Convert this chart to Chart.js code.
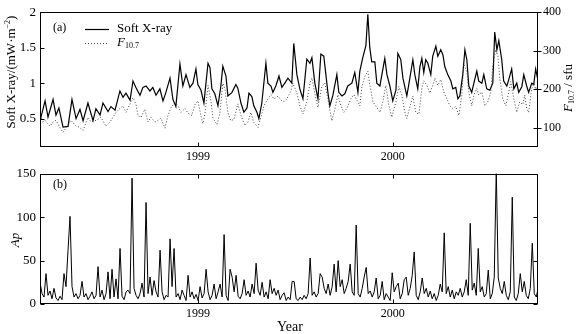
<!DOCTYPE html>
<html>
<head>
<meta charset="utf-8">
<script src="https://cdn.jsdelivr.net/npm/chart.js@4"></script>
<style>
  body { margin: 0; background: #fff; }
  #wrap { position: relative; width: 577px; height: 334px; }
  canvas { position: absolute; left: 0; }
</style>
</head>
<body>
<div id="wrap">
  <canvas id="top" width="577" height="162" style="top:0"></canvas>
  <canvas id="bottom" width="577" height="172" style="top:162px"></canvas>
</div>
<script>
// ---- data ----
const xrayYears = [
  1998.190, 1998.195, 1998.216, 1998.231, 1998.257, 1998.272, 1998.287, 1998.308, 1998.334, 1998.354,
  1998.375, 1998.395, 1998.411, 1998.436, 1998.462, 1998.477, 1998.498, 1998.513, 1998.539, 1998.554,
  1998.575, 1998.600, 1998.616, 1998.631, 1998.652, 1998.667, 1998.682, 1998.703, 1998.718, 1998.734,
  1998.754, 1998.769, 1998.785, 1998.805, 1998.821, 1998.836, 1998.857, 1998.872, 1998.887, 1998.908,
  1998.923, 1998.939, 1998.959, 1998.975, 1998.990, 1999.000, 1999.016, 1999.031, 1999.052, 1999.062,
  1999.072, 1999.087, 1999.103, 1999.118, 1999.128, 1999.144, 1999.154, 1999.175, 1999.195, 1999.205,
  1999.221, 1999.236, 1999.252, 1999.262, 1999.277, 1999.287, 1999.303, 1999.313, 1999.328, 1999.349,
  1999.359, 1999.375, 1999.385, 1999.400, 1999.416, 1999.431, 1999.446, 1999.462, 1999.482, 1999.492,
  1999.508, 1999.523, 1999.539, 1999.559, 1999.575, 1999.585, 1999.600, 1999.616, 1999.631, 1999.646,
  1999.667, 1999.677, 1999.692, 1999.713, 1999.723, 1999.739, 1999.754, 1999.769, 1999.790, 1999.805,
  1999.821, 1999.831, 1999.846, 1999.862, 1999.872, 1999.882, 1999.892, 1999.908, 1999.918, 1999.934,
  1999.944, 1999.959, 1999.970, 1999.985, 2000.000, 2000.016, 2000.026, 2000.041, 2000.052, 2000.072,
  2000.082, 2000.103, 2000.113, 2000.128, 2000.139, 2000.149, 2000.159, 2000.169, 2000.180, 2000.195,
  2000.205, 2000.221, 2000.231, 2000.246, 2000.257, 2000.267, 2000.282, 2000.298, 2000.308, 2000.323,
  2000.334, 2000.344, 2000.359, 2000.370, 2000.380, 2000.390, 2000.405, 2000.416, 2000.431, 2000.441,
  2000.457, 2000.467, 2000.482, 2000.498, 2000.513, 2000.523, 2000.534, 2000.544, 2000.559, 2000.569,
  2000.585, 2000.595, 2000.610, 2000.621, 2000.636, 2000.646, 2000.662, 2000.672, 2000.687, 2000.697,
  2000.713, 2000.723, 2000.733, 2000.744
];
const xrayFlux = [
  0.50, 0.52, 0.75, 0.52, 0.77, 0.55, 0.65, 0.38, 0.39, 0.77,
  0.50, 0.63, 0.47, 0.72, 0.47, 0.64, 0.55, 0.72, 0.60, 0.67,
  0.62, 0.89, 0.80, 0.86, 0.76, 1.03, 0.94, 0.83, 0.94, 0.96,
  0.89, 0.94, 0.83, 0.92, 0.75, 0.87, 1.07, 0.77, 0.67, 1.27,
  0.96, 1.12, 0.94, 1.00, 1.20, 0.98, 0.90, 0.72, 1.28, 1.22,
  0.92, 0.85, 0.68, 0.96, 1.24, 1.10, 0.82, 0.87, 0.98, 0.93,
  0.72, 0.59, 0.65, 0.86, 0.81, 0.68, 0.59, 0.50, 0.72, 1.28,
  1.00, 0.96, 0.87, 0.96, 1.10, 0.94, 1.00, 1.07, 1.00, 1.56,
  1.12, 0.92, 0.78, 1.34, 1.28, 1.36, 1.00, 0.78, 1.41, 1.38,
  0.87, 0.68, 0.82, 1.12, 0.87, 0.82, 0.85, 0.96, 1.00, 1.15,
  0.87, 1.17, 1.36, 1.53, 1.97, 1.50, 1.30, 1.30, 1.00, 0.96,
  1.12, 1.35, 1.12, 0.96, 0.75, 0.90, 1.42, 1.33, 1.07, 0.82,
  0.98, 1.33, 1.12, 0.92, 1.23, 1.35, 1.15, 1.33, 1.28, 1.12,
  1.38, 1.52, 1.38, 1.47, 1.40, 1.23, 1.12, 1.03, 0.92, 0.94,
  0.78, 0.82, 1.12, 1.47, 1.33, 0.96, 0.87, 1.00, 1.17, 1.03,
  1.00, 1.12, 0.92, 0.90, 1.00, 1.72, 1.47, 1.60, 1.33, 1.03,
  0.96, 1.05, 1.20, 0.92, 1.00, 0.87, 0.95, 1.12, 0.96, 0.87,
  1.00, 0.98, 1.20, 1.05
];

const f107Years = [
  1998.190, 1998.216, 1998.241, 1998.257, 1998.272, 1998.293, 1998.308, 1998.323, 1998.349, 1998.375,
  1998.390, 1998.411, 1998.436, 1998.452, 1998.477, 1998.503, 1998.528, 1998.549, 1998.564, 1998.580,
  1998.600, 1998.616, 1998.631, 1998.652, 1998.667, 1998.682, 1998.693, 1998.708, 1998.728, 1998.744,
  1998.759, 1998.780, 1998.795, 1998.810, 1998.831, 1998.846, 1998.862, 1998.882, 1998.898, 1998.913,
  1998.934, 1998.949, 1998.969, 1998.985, 1999.000, 1999.016, 1999.026, 1999.036, 1999.052, 1999.067,
  1999.077, 1999.098, 1999.113, 1999.128, 1999.139, 1999.154, 1999.169, 1999.185, 1999.205, 1999.221,
  1999.241, 1999.257, 1999.272, 1999.287, 1999.308, 1999.323, 1999.339, 1999.359, 1999.375, 1999.390,
  1999.411, 1999.426, 1999.441, 1999.457, 1999.477, 1999.487, 1999.508, 1999.523, 1999.539, 1999.559,
  1999.575, 1999.585, 1999.600, 1999.616, 1999.636, 1999.651, 1999.667, 1999.687, 1999.703, 1999.718,
  1999.734, 1999.749, 1999.764, 1999.785, 1999.800, 1999.821, 1999.831, 1999.841, 1999.857, 1999.872,
  1999.882, 1999.898, 1999.918, 1999.934, 1999.949, 1999.964, 1999.980, 1999.995, 2000.016, 2000.031,
  2000.046, 2000.062, 2000.072, 2000.087, 2000.103, 2000.118, 2000.134, 2000.149, 2000.159, 2000.175,
  2000.190, 2000.205, 2000.216, 2000.231, 2000.246, 2000.262, 2000.277, 2000.293, 2000.308, 2000.323,
  2000.339, 2000.354, 2000.364, 2000.380, 2000.390, 2000.405, 2000.416, 2000.431, 2000.441, 2000.457,
  2000.472, 2000.487, 2000.503, 2000.513, 2000.528, 2000.539, 2000.549, 2000.564, 2000.580, 2000.595,
  2000.605, 2000.621, 2000.636, 2000.651, 2000.667, 2000.677, 2000.687, 2000.697, 2000.713, 2000.723,
  2000.733, 2000.744
];
const f107Flux = [
  111, 119, 104, 115, 119, 100, 88, 99, 119, 104,
  102, 93, 127, 115, 119, 127, 104, 115, 127, 140,
  150, 157, 140, 162, 178, 162, 131, 127, 148, 115,
  127, 115, 119, 125, 99, 131, 152, 165, 157, 140,
  150, 138, 132, 160, 170, 130, 111, 135, 210, 170,
  125, 108, 138, 215, 200, 140, 118, 122, 162, 132,
  106, 115, 140, 114, 101, 126, 157, 175, 186, 175,
  182, 172, 167, 175, 195, 216, 190, 157, 136, 167,
  216, 229, 190, 153, 207, 216, 175, 118, 148, 186,
  157, 140, 150, 175, 186, 167, 157, 205, 234, 247,
  212, 167, 153, 140, 167, 210, 158, 127, 167, 207,
  185, 140, 124, 153, 182, 140, 135, 202, 222, 210,
  190, 210, 229, 210, 225, 193, 175, 157, 150, 155,
  132, 185, 265, 245, 193, 157, 185, 202, 185, 193,
  157, 167, 193, 260, 303, 287, 229, 175, 157, 193,
  220, 175, 140, 167, 160, 185, 150, 140, 202, 215,
  200, 210
];

// Ap sampled every ~3.75 days from the left edge of the plot
const apStartYear = 1998.19;
const apStepDays = 3.75;
const apValues = [
  25, 12, 8, 35, 10, 15, 6, 18, 7, 4,
  9, 5, 35, 20, 62, 101, 20, 8, 12, 6,
  10, 26, 8, 12, 5, 9, 14, 6, 10, 43,
  8, 16, 5, 12, 37, 6, 40, 8, 29, 6,
  64, 9, 5, 14, 16, 12, 145, 18, 10, 6,
  12, 24, 8, 117, 12, 31, 10, 27, 14, 8,
  62, 14, 5, 10, 8, 75, 20, 64, 8, 12,
  5, 16, 10, 4, 33, 8, 14, 6, 11, 4,
  20, 7, 12, 40, 14, 5, 10, 23, 6, 14,
  23, 8, 80, 10, 4, 40, 31, 14, 33, 9,
  6, 12, 28, 10, 15, 8, 23, 12, 47, 16,
  10, 25, 8, 14, 6, 28, 12, 18, 10, 16,
  5, 10, 13, 4, 8, 5, 26, 26, 6, 4,
  8, 5, 10, 6, 12, 53, 10, 14, 8, 12,
  35, 31, 18, 12, 23, 10, 20, 46, 14, 50,
  20, 28, 12, 18, 26, 46, 14, 10, 91, 12,
  8, 18, 31, 42, 12, 15, 8, 14, 30, 6,
  10, 26, 5, 12, 8, 4, 36, 14, 20, 24,
  6, 12, 28, 31, 10, 18, 33, 60, 10, 5,
  14, 30, 12, 18, 8, 15, 6, 12, 4, 10,
  23, 14, 82, 12, 20, 8, 16, 6, 14, 10,
  18, 8, 14, 28, 10, 93, 16, 24, 10, 64,
  14, 20, 8, 12, 39, 6, 12, 31, 155, 30,
  18, 12, 26, 10, 5, 14, 123, 8, 4, 12,
  35, 14, 26, 10, 6, 18, 70, 12, 8, 19
];

const yearTicks = [1999, 2000];
const xrayTicks = [0.5, 1, 1.5, 2];
const f107Ticks = [100, 200, 300, 400];
const apTicks = [0, 50, 100, 150];
const xMin = 1998.19, xMax = 2000.745;

const SERIF = '"Liberation Serif", "Times New Roman", serif';

// draws a row of text pieces (used for subscripts / superscripts)
function drawRuns(ctx, runs, x, y, center) {
  let w = 0;
  for (const r of runs) { ctx.font = r.f; w += ctx.measureText(r.t).width; }
  let cx = center ? x - w / 2 : x;
  for (const r of runs) {
    ctx.font = r.f;
    ctx.fillText(r.t, cx, y + (r.dy || 0));
    cx += ctx.measureText(r.t).width;
  }
}

function makeFrame(o) {
  return {
    id: 'frame',
    afterDraw(chart) {
      const { ctx, chartArea: a, scales } = chart;
      const L = Math.round(a.left) + 0.5, R = Math.round(a.right) - 0.5;
      const T = Math.round(a.top) + 0.5, B = Math.round(a.bottom) - 0.5;
      const tk = 4;
      ctx.save();
      ctx.strokeStyle = '#000';
      ctx.lineWidth = 1;
      ctx.strokeRect(L, T, R - L, B - T);
      ctx.beginPath();
      for (const v of yearTicks) {
        const px = Math.round(scales.x.getPixelForValue(v)) + 0.5;
        ctx.moveTo(px, B); ctx.lineTo(px, B - tk);
        if (o.xTop) { ctx.moveTo(px, T); ctx.lineTo(px, T + tk); }
      }
      for (const v of o.leftTicks) {
        const py = Math.round(scales.y.getPixelForValue(v)) + 0.5;
        ctx.moveTo(L, py); ctx.lineTo(L + tk, py);
        if (o.mirrorRight) { ctx.moveTo(R, py); ctx.lineTo(R - tk, py); }
      }
      if (o.rightTicks) {
        for (const v of o.rightTicks) {
          const py = Math.round(scales.y1.getPixelForValue(v)) + 0.5;
          ctx.moveTo(R - tk, py); ctx.lineTo(R + tk, py);
        }
      }
      ctx.stroke();
      ctx.restore();
      ctx.save();
      ctx.fillStyle = '#000';
      ctx.textBaseline = 'middle';
      o.decorate(ctx);
      ctx.restore();
    }
  };
}

function drawTopDecor(ctx) {
  ctx.font = '12px ' + SERIF;
  ctx.fillText('(a)', 53, 28);
  ctx.strokeStyle = '#000';
  ctx.lineWidth = 1.2;
  ctx.beginPath(); ctx.moveTo(85, 29.5); ctx.lineTo(109, 29.5); ctx.stroke();
  ctx.lineWidth = 1;
  ctx.strokeStyle = '#444';
  ctx.setLineDash([1, 2]);
  ctx.beginPath(); ctx.moveTo(85, 43.5); ctx.lineTo(109, 43.5); ctx.stroke();
  ctx.setLineDash([]);
  ctx.font = '13px ' + SERIF;
  ctx.fillText('Soft X-ray', 117, 29);
  drawRuns(ctx, [
    { t: 'F', f: 'italic 13px ' + SERIF },
    { t: '10.7', f: '8px ' + SERIF, dy: 3 }
  ], 117, 43);

  // left axis title
  ctx.save();
  ctx.translate(12, 72);
  ctx.rotate(-Math.PI / 2);
  drawRuns(ctx, [
    { t: 'Soft X-ray/(mW·m', f: '13px ' + SERIF },
    { t: '−2', f: '8px ' + SERIF, dy: -4 },
    { t: ')', f: '13px ' + SERIF }
  ], 0, 0, true);
  ctx.restore();

  // right axis title
  ctx.save();
  ctx.translate(569, 88);
  ctx.rotate(-Math.PI / 2);
  drawRuns(ctx, [
    { t: 'F', f: 'italic 13px ' + SERIF },
    { t: '10.7', f: '8px ' + SERIF, dy: 3 },
    { t: ' / sfu', f: '13px ' + SERIF }
  ], 0, 0, true);
  ctx.restore();
}

function drawBottomDecor(ctx) {
  ctx.font = '12px ' + SERIF;
  ctx.fillText('(b)', 53, 23);
  ctx.save();
  ctx.translate(16, 78);
  ctx.rotate(-Math.PI / 2);
  ctx.font = 'italic 13px ' + SERIF;
  ctx.textAlign = 'center';
  ctx.fillText('Ap', 0, 0);
  ctx.restore();
  ctx.font = '14px ' + SERIF;
  ctx.textAlign = 'center';
  ctx.fillText('Year', 290, 165);
}

function xAxis(height) {
  return {
    type: 'linear',
    min: xMin,
    max: xMax,
    grid: { display: false, drawTicks: false },
    border: { display: false },
    afterBuildTicks: s => { s.ticks = yearTicks.map(v => ({ value: v })); },
    afterFit: s => { s.height = height; },
    ticks: {
      font: { family: SERIF, size: 12 },
      color: '#000',
      padding: 3,
      maxRotation: 0,
      autoSkip: false,
      callback: v => String(v)
    }
  };
}

function yAxis(pos, min, max, ticks, width, showLabels) {
  return {
    type: 'linear',
    position: pos,
    min: min,
    max: max,
    grid: { display: false, drawTicks: false },
    border: { display: false },
    afterBuildTicks: s => { s.ticks = ticks.map(v => ({ value: v })); },
    afterFit: s => { s.width = width; },
    ticks: {
      display: showLabels,
      font: { family: SERIF, size: 13 },
      color: '#000',
      padding: 4,
      callback: v => String(v)
    }
  };
}

Chart.defaults.animation = false;

new Chart(document.getElementById('top'), {
  type: 'line',
  data: {
    datasets: [
      {
        label: 'F10.7',
        data: f107Years.map((t, i) => ({ x: t, y: f107Flux[i] })),
        yAxisID: 'y1',
        borderColor: '#444',
        borderWidth: 1,
        borderDash: [1, 2],
        pointRadius: 0,
        tension: 0
      },
      {
        label: 'Soft X-ray',
        data: xrayYears.map((t, i) => ({ x: t, y: xrayFlux[i] })),
        yAxisID: 'y',
        borderColor: '#000',
        borderWidth: 1.2,
        pointRadius: 0,
        tension: 0
      }
    ]
  },
  options: {
    responsive: false,
    layout: { padding: { top: 10, left: 0, right: 0, bottom: 0 } },
    plugins: { legend: { display: false }, tooltip: { enabled: false } },
    scales: {
      x: xAxis(15),
      y: yAxis('left', 0.1, 2, xrayTicks, 40, true),
      y1: Object.assign(yAxis('right', 50, 400, f107Ticks, 39, true), { ticks: { display: true, font: { family: SERIF, size: 12 }, color: '#000', padding: 5, callback: v => String(v) } })
    }
  },
  plugins: [makeFrame({ leftTicks: xrayTicks, rightTicks: f107Ticks, xTop: false, mirrorRight: false, decorate: drawTopDecor })]
});

new Chart(document.getElementById('bottom'), {
  type: 'line',
  data: {
    datasets: [{
      label: 'Ap',
      data: apValues.map((v, i) => ({ x: apStartYear + i * apStepDays / 365.25, y: v })),
      borderColor: '#000',
      borderWidth: 1,
      pointRadius: 0,
      tension: 0
    }]
  },
  options: {
    responsive: false,
    layout: { padding: { top: 5, left: 0, right: 39, bottom: 0 } },
    plugins: { legend: { display: false }, tooltip: { enabled: false } },
    scales: {
      x: xAxis(30),
      y: yAxis('left', 0, 150, apTicks, 40, true)
    }
  },
  plugins: [makeFrame({ leftTicks: apTicks, xTop: true, mirrorRight: true, decorate: drawBottomDecor })]
});
</script>
</body>
</html>
